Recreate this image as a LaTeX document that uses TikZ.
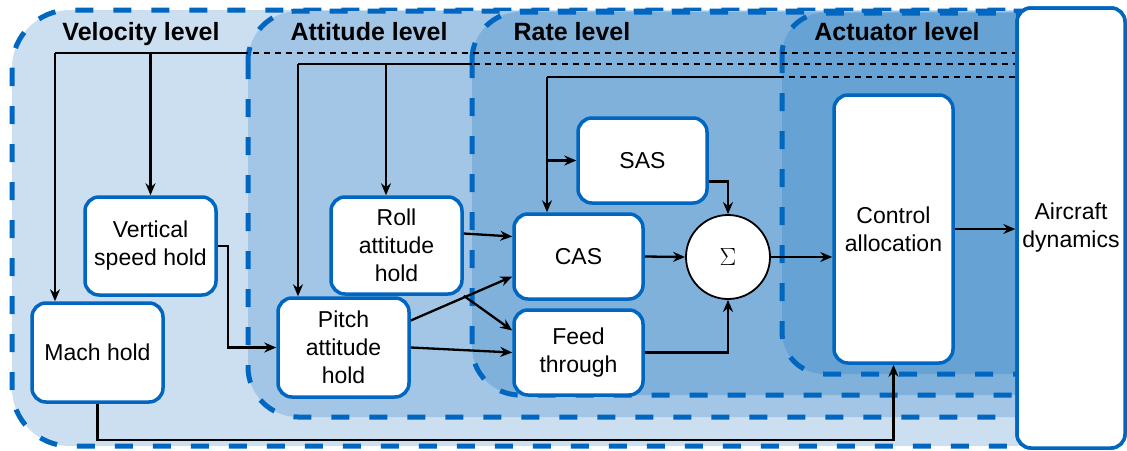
\documentclass[tikz,border=0pt]{standalone}
\usepackage{fontspec}
\setmainfont{Liberation Sans}
\usetikzlibrary{arrows.meta}
\definecolor{blueline}{RGB}{0,102,192}
\definecolor{velfill}{RGB}{204,223,240}
\definecolor{attfill}{RGB}{163,198,230}
\definecolor{ratefill}{RGB}{128,177,219}
\definecolor{actfill}{RGB}{102,163,212}

\begin{document}
\begin{tikzpicture}[x=1pt,y=-1pt]
  \tikzstyle{Level}=[draw=blueline,line width=5pt,dash pattern=on 18pt off 20pt]
  \tikzstyle{LevelName}=[font=\fontsize{25}{30}\selectfont\bfseries]
  \tikzstyle{Block}=[draw=blueline,line width=3.5pt,fill=white,rounded corners=14pt,align=center,inner sep=0pt,font=\fontsize{23}{28}\selectfont]
  \tikzstyle{Wire}=[line width=2.3pt]
  \tikzstyle{Signal}=[Wire,-{Stealth[length=12pt,width=10pt]}]
  \tikzstyle{Bus}=[line width=2.3pt,dash pattern=on 6pt off 5pt]
  \useasboundingbox (0,0) rectangle (1127,450);

  % nested levels, outermost first
  \coordinate (vel) at (12,10);
  \coordinate (att) at (248,11);
  \coordinate (rate) at (472,12);
  \coordinate (act) at (782,13);
  \draw[Level,fill=velfill,rounded corners=58pt] (vel) rectangle (1070,446);
  \draw[Level,fill=attfill,rounded corners=50pt] (att) rectangle (1070,417);
  \draw[Level,fill=ratefill,rounded corners=48pt] (rate) rectangle (1070,395);
  \draw[Level,fill=actfill,rounded corners=42pt] (act) rectangle (1070,374);

  \node[LevelName] (velname) at (141,34) {Velocity level};
  \node[LevelName] (attname) at (369,32) {Attitude level};
  \node[LevelName] (ratename) at (572,32) {Rate level};
  \node[LevelName] (actname) at (897,32) {Actuator level};

  \node[Block,minimum width=131pt,minimum height=98pt] (vsh) at (150.5,246) {Vertical\\speed hold};
  \node[Block,minimum width=131pt,minimum height=99pt] (mach) at (97.5,352.5) {Mach hold};
  \node[Block,minimum width=131pt,minimum height=97pt] (roll) at (396.5,245.5) {Roll\\attitude\\hold};
  \node[Block,minimum width=131pt,minimum height=99pt] (pitch) at (343.5,347.5) {Pitch\\attitude\\hold};
  \node[Block,minimum width=129pt,minimum height=85pt] (sas) at (642.5,160.5) {SAS};
  \node[Block,minimum width=129pt,minimum height=85pt] (cas) at (578.5,256.5) {CAS};
  \node[Block,minimum width=129pt,minimum height=85pt] (feed) at (578.5,352.5) {Feed\\through};
  \node[circle,draw,line width=1.8pt,fill=white,minimum size=84pt,inner sep=0pt] (sum) at (728,257) {\fontsize{26}{30}\selectfont$\Sigma$};
  \node[Block,minimum width=119pt,minimum height=268pt] (alloc) at (893.5,229) {Control\\allocation};

  % reference buses
  \coordinate (velbus) at (55,53);
  \coordinate (attbus) at (298,64);
  \coordinate (rolltap) at (386,64);
  \coordinate (ratebus) at (547,77);

  \node[Block,minimum width=108pt,minimum height=440pt] (plant) at (1071,228) {};
  \draw[Bus] (velbus) -- (velbus -| plant.west);
  \draw[Bus] (attbus) -- (attbus -| plant.west);
  \draw[Bus] (ratebus) -- (ratebus -| plant.west);
  \draw[Wire] (velbus) -- (velbus -| att);
  \draw[Wire] (attbus) -- (attbus -| rate);
  \draw[Wire] (ratebus) -- (ratebus -| act);
  \node[Block,minimum width=108pt,minimum height=440pt] (plant) at (1071,228) {Aircraft\\dynamics};

  \draw[Signal] (velbus) -- (velbus |- mach.north);
  \draw[Signal] (vsh.north |- velbus) -- (vsh.north);
  \draw[Signal] (attbus) -- (attbus |- pitch.north);
  \draw[Signal] (rolltap) -- (rolltap |- roll.north);
  \draw[Signal] (ratebus) -- (ratebus |- cas.north);
  \draw[Signal] (ratebus |- sas.west) -- (sas.west);

  \draw[Signal] (vsh.east) -- ++(10,0) |- (pitch.west);
  \draw[Signal] ([yshift=12pt]roll.east) -- ([yshift=20pt]cas.west);
  \draw[Signal] (roll.south east) -- ([yshift=22pt]feed.west);
  \draw[Signal] ([yshift=27pt]pitch.east) -- ([yshift=-20pt]cas.west);
  \draw[Signal] (pitch.east) -- (feed.west);
  \draw[Signal] ([yshift=-21pt]sas.east) -| (sum.north);
  \draw[Signal] (cas.east) -- (sum.west);
  \draw[Signal] (feed.east) -| (sum.south);
  \draw[Signal] (sum.east) -- (sum.east -| alloc.west);
  \draw[Signal] (alloc.east) -- (alloc.east -| plant.west);
  \draw[Signal] (mach.south) -- ++(0,36) -| (alloc.south);
\end{tikzpicture}
\end{document}
